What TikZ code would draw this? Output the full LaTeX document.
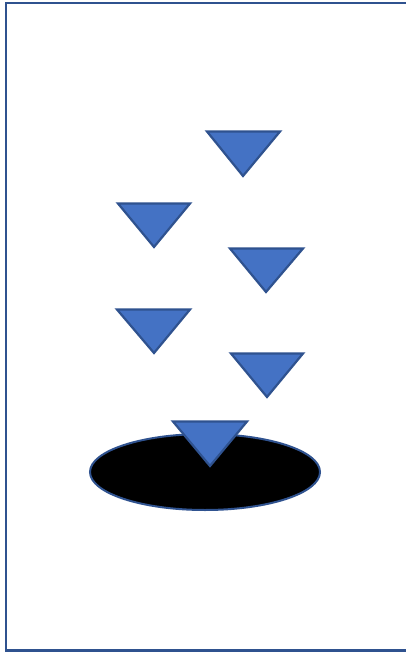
\documentclass[tikz,border=0pt]{standalone}
\definecolor{triFill}{HTML}{4472C4}
\definecolor{triLine}{HTML}{2F528F}
\begin{document}
\begin{tikzpicture}[x=1pt,y=-1pt,
  tri/.style={fill=triFill,draw=triLine,line width=2.2pt,line join=miter},
  frame/.style={draw=triLine,line width=2.6pt}]
\useasboundingbox (0,0) rectangle (405,652);
\fill[white] (0,0) rectangle (405,652);
\draw[frame] (6,3) rectangle (420,650.5);
% hole
\draw[fill=black,draw=triLine,line width=2pt] (205,472) ellipse [x radius=115, y radius=38];
% triangles
\draw[tri] (207,131.5) -- (280,131.5) -- (243,176) -- cycle;
\draw[tri] (118,203.5) -- (190,203.5) -- (154,247) -- cycle;
\draw[tri] (230,248.5) -- (303,248.5) -- (266,292) -- cycle;
\draw[tri] (117,309.5) -- (190,309.5) -- (154,353) -- cycle;
\draw[tri] (231,353.5) -- (303,353.5) -- (267,397) -- cycle;
\draw[tri] (173,421.5) -- (247,421.5) -- (210,466) -- cycle;
\end{tikzpicture}
\end{document}
